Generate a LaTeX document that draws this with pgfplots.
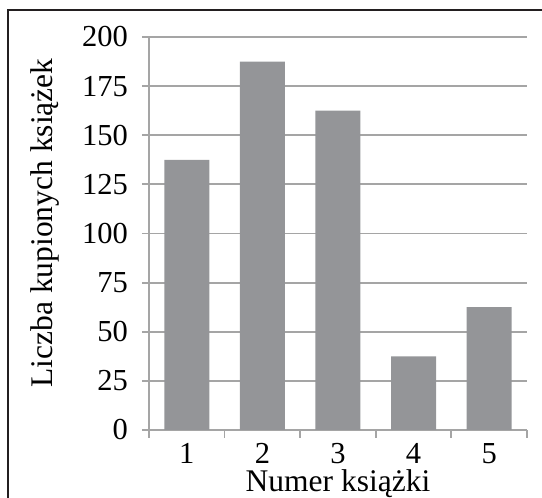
\documentclass[border=0pt]{standalone}
\usepackage{pgfplots}
\pgfplotsset{compat=1.18}
\usepackage{fontspec}
\setmainfont{Liberation Serif}
\definecolor{barcol}{RGB}{148,149,152}
\definecolor{gridcol}{RGB}{165,165,165}
\definecolor{framecol}{RGB}{35,31,32}
\begin{document}
\begin{tikzpicture}
\useasboundingbox (0pt,0pt) rectangle (542pt,498pt);
\begin{axis}[
  at={(149pt,68pt)}, anchor=south west,
  scale only axis, width=378pt, height=393pt,
  xmin=0.5, xmax=5.5, ymin=0, ymax=200,
  axis x line*=bottom, axis y line*=left,
  axis line style={draw=gridcol, line width=1.8pt},
  ybar, bar width=45pt, bar shift=0pt,
  xtick={1,2,3,4,5},
  minor xtick={0.5,1.5,2.5,3.5,4.5,5.5},
  ytick={0,25,...,200},
  tick align=outside,
  major tick length=7pt, minor tick length=8pt,
  major x tick style={draw=none},
  tick style={draw=gridcol, line width=1.8pt},
  ymajorgrids, grid style={draw=gridcol, line width=1.8pt},
  /pgf/number format/assume math mode=true,
  tick label style={font=\fontsize{30.5}{30.5}\selectfont},
  xticklabel style={inner sep=0pt, anchor=north, yshift=-6pt},
  yticklabel style={inner sep=0pt, anchor=east, xshift=-14pt},
  clip=false,
]
\addplot[fill=barcol, draw=none] coordinates {(1,137.5) (2,187.5) (3,162.5) (4,37.5) (5,62.5)};
\end{axis}
\node[anchor=base, rotate=90, inner sep=0pt, font=\fontsize{31.5}{31.5}\selectfont] at (53pt,275pt) {Liczba kupionych książek};
\node[anchor=base, inner sep=0pt, font=\fontsize{31.5}{31.5}\selectfont] at (338pt,6pt) {Numer książki};
\draw[framecol, line width=2pt] (8pt,-2pt) -- (8pt,488pt) -- (544pt,488pt);
\end{tikzpicture}
\end{document}
